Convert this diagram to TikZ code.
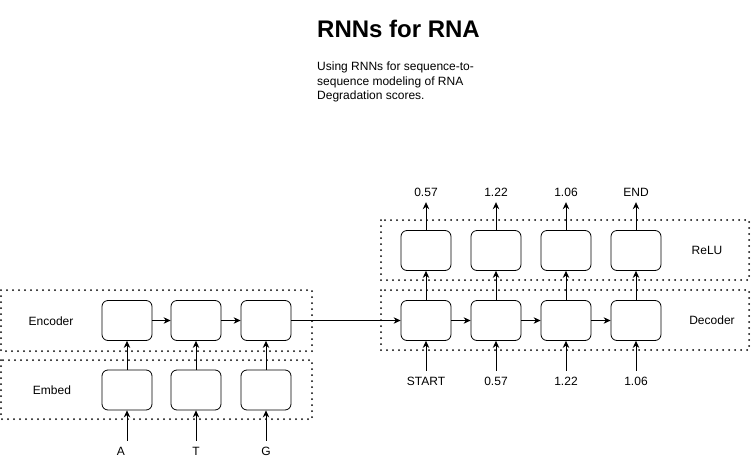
\documentclass[tikz,border=0pt]{standalone}
\usepackage{fontspec}
\setmainfont{Liberation Sans}
\usetikzlibrary{arrows.meta}

\tikzset{
  cell/.style={draw, rounded corners=6pt, minimum width=50pt, minimum height=40pt, line width=0.8pt},
  layer/.style={line width=2pt, dash pattern=on 0pt off 6pt, line cap=round},
  lbl/.style={minimum height=20pt, inner sep=0pt, font=\fontsize{12}{14}\selectfont},
  flow/.style={-{Stealth[length=7pt,width=6.5pt]}, line width=0.8pt}
}

\begin{document}
\begin{tikzpicture}[x=1pt,y=-1pt]
        \useasboundingbox (0,0) rectangle (753,461);
        %% Title
        \node[anchor=base west, inner sep=0pt, font=\bfseries\fontsize{24}{28}\selectfont] (title) at (317,37) {RNNs for RNA};
        \node[anchor=north west, inner sep=0pt, align=left, font=\fontsize{12}{14.5}\selectfont] (descr) at (317,62) {Using RNNs for sequence-to-\\sequence modeling of RNA\\Degradation scores.};
        %% Layers
        \draw[layer] (1,290) rectangle (312,351);
        \draw[layer] (1,360) rectangle (312,419);
        \draw[layer] (381,220) rectangle (749,280);
        \draw[layer] (381,290) rectangle (749,350);
        \node[lbl] (enclbl) at (51,321) {Encoder};
        \node[lbl] (emblbl) at (52,390) {Embed};
        \node[lbl] (relulbl) at (707,250) {ReLU};
        \node[lbl] (declbl) at (712,320) {Decoder};
        %% Encoder side
        \foreach \x/\i/\c in {127/1/A,196/2/T,266/3/G} {
            \node[cell] (enc\i) at (\x,320.5) {};
            \node[cell] (emb\i) at (\x,390) {};
            \draw[flow] (emb\i) -- (enc\i);
        }
        \node[lbl] (A) at (121,451) {A};
        \node[lbl] (T) at (196,451) {T};
        \node[lbl] (G) at (266,451) {G};
        \draw[flow] (A.north -| emb1.south) -- (emb1.south);
        \draw[flow] (T) -- (emb2);
        \draw[flow] (G) -- (emb3);
        \draw[flow] (enc1) -- (enc2);
        \draw[flow] (enc2) -- (enc3);
        %% Decoder side
        \foreach \x/\i/\ins/\outs in {426/1/START/0.57,496/2/0.57/1.22,566/3/1.22/1.06,636/4/1.06/END} {
            \node[cell] (dec\i) at (\x,320.5) {};
            \node[cell] (relu\i) at (\x,250.5) {};
            \node[lbl] (in\i) at (\x,381) {\ins};
            \node[lbl] (out\i) at (\x,192) {\outs};
            \draw[flow] (dec\i) -- (relu\i);
            \draw[flow] (relu\i) -- (out\i);
            \draw[flow] (in\i) -- (dec\i);
        }
        \draw[flow] (enc3) -- (dec1);
        \draw[flow] (dec1) -- (dec2);
        \draw[flow] (dec2) -- (dec3);
        \draw[flow] (dec3) -- (dec4);
    \end{tikzpicture}
\end{document}
